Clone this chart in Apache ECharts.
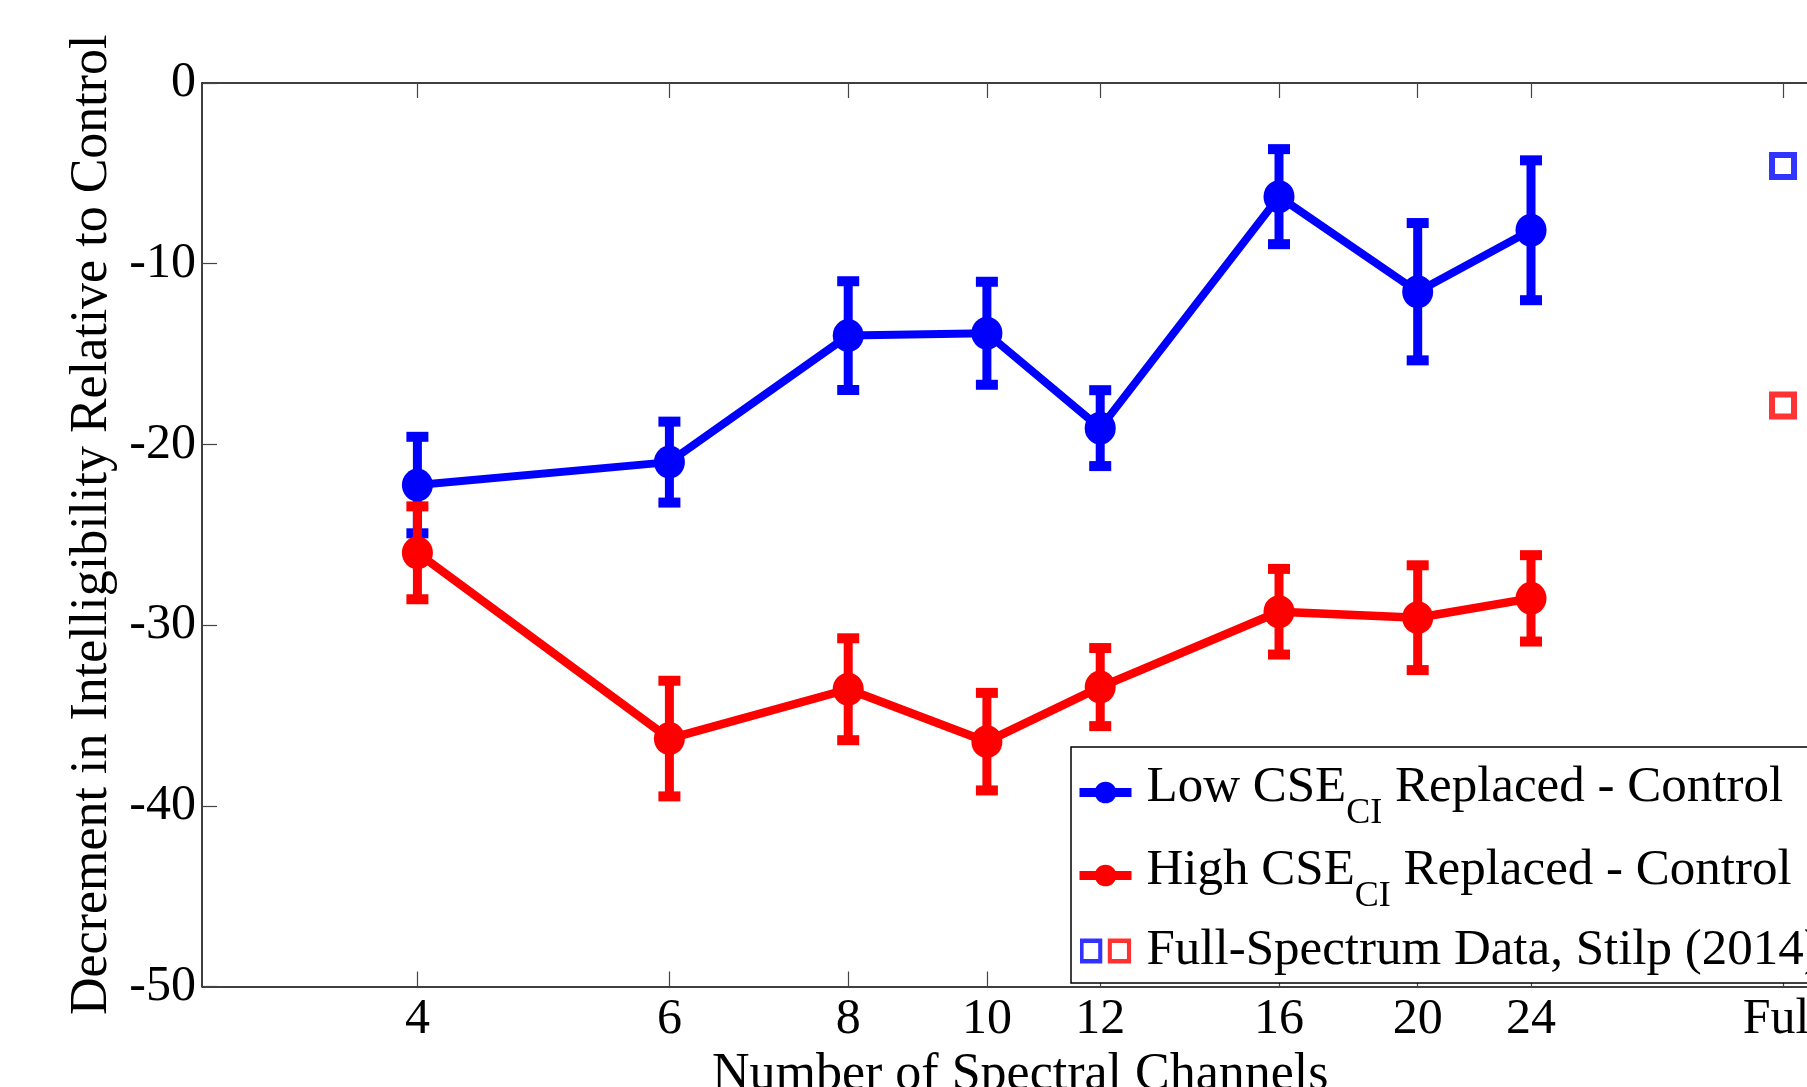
<!DOCTYPE html>
<html>
<head>
<meta charset="utf-8">
<script src="https://cdn.jsdelivr.net/npm/echarts@6/dist/echarts.min.js"></script>
<style>
  html, body { margin: 0; padding: 0; background: #fff; }
  #chart { width: 1807px; height: 1087px; }
</style>
</head>
<body>
<div id="chart"></div>
<script>
// Number of spectral channels (plotted on a log2 scale)
const channels = [4, 6, 8, 10, 12, 16, 20, 24];

// Low CSE_CI replaced minus control: means and error-bar half-widths
const lowMean = [-22.25, -20.98, -13.98, -13.85, -19.1, -6.29, -11.55, -8.15];
const lowErr  = [2.67, 2.24, 3.01, 2.85, 2.1, 2.63, 3.8, 3.87];

// High CSE_CI replaced minus control: means and error-bar half-widths
const highMean = [-26.0, -36.28, -33.55, -36.45, -33.43, -29.26, -29.59, -28.52];
const highErr  = [2.57, 3.2, 2.82, 2.7, 2.16, 2.37, 2.9, 2.39];

// Full-spectrum reference values (Stilp, 2014), shown at the "Full" tick
const fullChannel = 36;
const fullLow = -4.6;
const fullHigh = -17.85;

// Tick labels along the channel axis
const xTickChannels = [4, 6, 8, 10, 12, 16, 20, 24, 36];
const xTickLabels = ['4', '6', '8', '10', '12', '16', '20', '24', 'Full'];

const nameLow = 'Low CSE_CI Replaced - Control';
const nameHigh = 'High CSE_CI Replaced - Control';
const nameFull = 'Full-Spectrum Data, Stilp (2014)';

const BLUE = '#0000ff';
const RED = '#ff0000';
const FONT = '"Liberation Serif", "Times New Roman", Times, serif';

const lg = v => Math.log2(v);
const xTicks = xTickChannels.map(lg);

function tickLabel(v) {
  for (let i = 0; i < xTicks.length; i++) {
    if (Math.abs(xTicks[i] - v) < 1e-6) return xTickLabels[i];
  }
  return '';
}

const lowLine = channels.map((c, i) => [lg(c), lowMean[i]]);
const highLine = channels.map((c, i) => [lg(c), highMean[i]]);
const lowBars = channels.map((c, i) => [lg(c), lowMean[i] - lowErr[i], lowMean[i] + lowErr[i]]);
const highBars = channels.map((c, i) => [lg(c), highMean[i] - highErr[i], highMean[i] + highErr[i]]);

// Vertical error bar with flat caps at both ends
function errorBarRenderer(color) {
  return function (params, api) {
    const x = api.value(0);
    const lo = api.coord([x, api.value(1)]);
    const hi = api.coord([x, api.value(2)]);
    const stemW = 9, capW = 22, capH = 10;
    return {
      type: 'group',
      children: [
        { type: 'rect', shape: { x: hi[0] - stemW / 2, y: hi[1], width: stemW, height: lo[1] - hi[1] }, style: { fill: color } },
        { type: 'rect', shape: { x: hi[0] - capW / 2, y: hi[1] - capH / 2, width: capW, height: capH }, style: { fill: color } },
        { type: 'rect', shape: { x: lo[0] - capW / 2, y: lo[1] - capH / 2, width: capW, height: capH }, style: { fill: color } }
      ]
    };
  };
}

// Legend icon for the full-spectrum entry: an open blue and an open red square
const squaresSvg =
  '<svg xmlns="http://www.w3.org/2000/svg" width="52" height="27" viewBox="0 0 57 27" preserveAspectRatio="none">' +
  '<rect x="2.25" y="3.25" width="20.5" height="20.5" fill="none" stroke="#0000ff" stroke-width="4.5"/>' +
  '<rect x="33.25" y="3.25" width="21" height="20.5" fill="none" stroke="#ff0000" stroke-width="4.5"/>' +
  '</svg>';
const squaresIcon = 'image://data:image/svg+xml;charset=utf-8,' + encodeURIComponent(squaresSvg);

// Legend labels; the trailing no-break space (style z) only sets the row height
const legendText = {};
legendText[nameLow] = '{m|Low CSE}{s|CI}{m| Replaced - Control}';
legendText[nameHigh] = '{m|High CSE}{s|CI}{m| Replaced - Control}';
legendText[nameFull] = '{f|Full-Spectrum Data, Stilp (2014)}{z|\u00a0}';

const xMin = 1.5;            // 2^1.5 channels at the left edge
const xMax = lg(40);

const axisLine = { show: true, onZero: false, lineStyle: { color: '#000', width: 1.5 } };
const tickStyle = { color: '#444', width: 1.2 };

const chart = echarts.init(document.getElementById('chart'), null, { renderer: 'canvas' });

chart.setOption({
  backgroundColor: '#ffffff',
  animation: false,
  grid: {
    left: 202, top: 83, width: 1646.5, height: 903.5,
    containLabel: false,
    outerBoundsMode: 'none'
  },
  legend: {
    orient: 'vertical',
    left: 1071, top: 747,
    padding: [6, 60, 0, 4],
    itemGap: 4,
    itemWidth: 52,
    itemHeight: 27,
    selectedMode: false,
    backgroundColor: '#ffffff',
    borderColor: '#000000',
    borderWidth: 1.5,
    borderRadius: 0,
    lineStyle: { width: 9 },
    data: [
      { name: nameLow },
      { name: nameHigh },
      { name: nameFull, icon: squaresIcon }
    ],
    formatter: name => legendText[name],
    textStyle: {
      color: '#000',
      padding: [0, 0, 0, 10],
      rich: {
        m: { fontFamily: FONT, fontSize: 51, lineHeight: 60, verticalAlign: 'top', color: '#000' },
        s: { fontFamily: FONT, fontSize: 36, lineHeight: 36, padding: [43, 0, 0, 0], color: '#000' },
        f: { fontFamily: FONT, fontSize: 51, lineHeight: 64, color: '#000' },
        z: { fontFamily: FONT, fontSize: 64, lineHeight: 64, color: '#000' }
      }
    }
  },
  xAxis: [
    {
      type: 'value',
      position: 'bottom',
      min: xMin, max: xMax,
      axisLine: axisLine,
      splitLine: { show: false },
      axisTick: { show: true, inside: true, length: 15, customValues: xTicks, lineStyle: tickStyle },
      axisLabel: {
        show: true, customValues: xTicks, formatter: tickLabel,
        margin: 8, fontFamily: FONT, fontSize: 50, color: '#000'
      },
      name: 'Number of Spectral Channels',
      nameLocation: 'middle',
      nameGap: 54,
      nameTextStyle: { fontFamily: FONT, fontSize: 52, color: '#000', padding: [0, 10, 0, 0] }
    },
    {
      type: 'value',
      position: 'top',
      min: xMin, max: xMax,
      axisLine: axisLine,
      splitLine: { show: false },
      axisTick: { show: true, inside: true, length: 15, customValues: xTicks, lineStyle: tickStyle },
      axisLabel: { show: false }
    }
  ],
  yAxis: [
    {
      type: 'value',
      position: 'left',
      min: -50, max: 0, interval: 10,
      axisLine: axisLine,
      splitLine: { show: false },
      axisTick: { show: true, inside: true, length: 15, lineStyle: tickStyle },
      axisLabel: { margin: 6, fontFamily: FONT, fontSize: 50, color: '#000' },
      name: 'Decrement in Intelligibility Relative to Control',
      nameLocation: 'middle',
      nameGap: 71,
      nameTextStyle: { fontFamily: FONT, fontSize: 52, color: '#000', padding: [0, 0, 0, 20] }
    }
  ],
  series: [
    {
      name: nameLow + ' error',
      type: 'custom',
      z: 2,
      renderItem: errorBarRenderer(BLUE),
      encode: { x: 0, y: [1, 2] },
      data: lowBars
    },
    {
      name: nameLow,
      type: 'line',
      z: 3,
      data: lowLine,
      symbol: 'circle',
      symbolSize: [31, 33],
      lineStyle: { color: BLUE, width: 8 },
      itemStyle: { color: BLUE }
    },
    {
      name: nameHigh + ' error',
      type: 'custom',
      z: 4,
      renderItem: errorBarRenderer(RED),
      encode: { x: 0, y: [1, 2] },
      data: highBars
    },
    {
      name: nameHigh,
      type: 'line',
      z: 5,
      data: highLine,
      symbol: 'circle',
      symbolSize: [31, 33],
      lineStyle: { color: RED, width: 8.5 },
      itemStyle: { color: RED }
    },
    {
      name: nameFull,
      type: 'scatter',
      z: 6,
      symbol: 'rect',
      symbolSize: 22,
      data: [
        { value: [lg(fullChannel), fullLow], itemStyle: { color: 'rgba(0,0,0,0)', borderColor: BLUE, borderWidth: 6 } },
        { value: [lg(fullChannel), fullHigh], itemStyle: { color: 'rgba(0,0,0,0)', borderColor: RED, borderWidth: 6 } }
      ]
    }
  ]
});
</script>
</body>
</html>
